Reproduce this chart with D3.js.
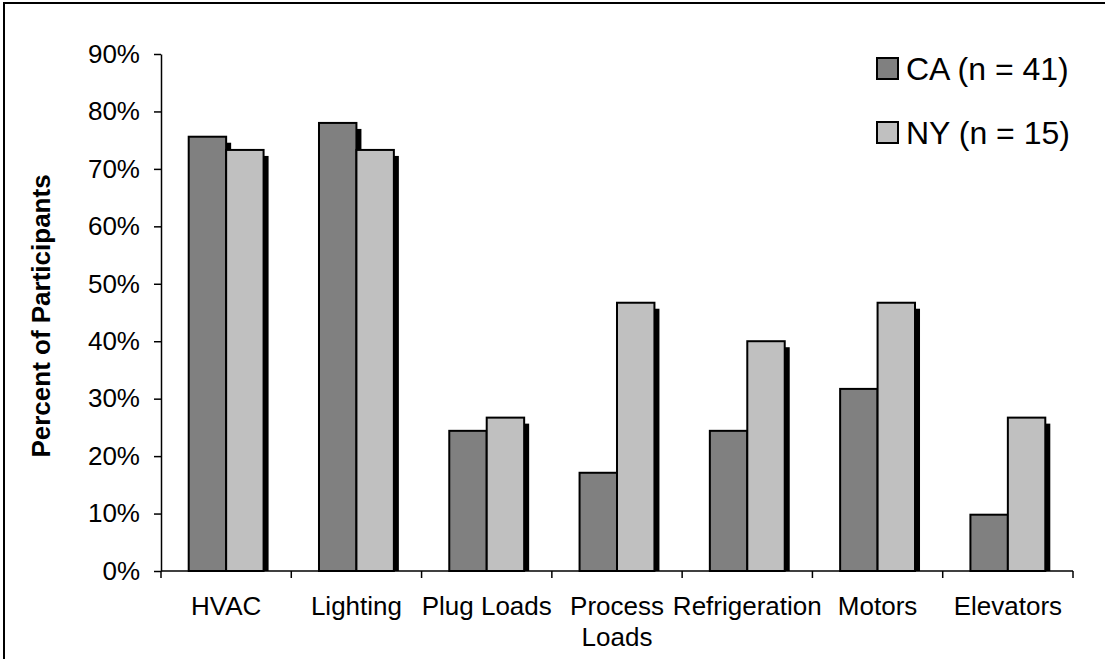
<!DOCTYPE html>
<html>
<head>
<meta charset="utf-8">
<script src="https://cdn.jsdelivr.net/npm/d3@7"></script>
<style>
  body { margin: 0; background: #fff; }
  svg { font-family: "Liberation Sans", Arial, sans-serif; }
</style>
</head>
<body>
<svg width="1105" height="659"></svg>
<script>
// chart data
const categories = ["HVAC", "Lighting", "Plug Loads", "Process Loads", "Refrigeration", "Motors", "Elevators"];
const tickLabels = [["HVAC"], ["Lighting"], ["Plug Loads"], ["Process", "Loads"], ["Refrigeration"], ["Motors"], ["Elevators"]];
const seriesNames = ["CA (n = 41)", "NY (n = 15)"];
const caValues = [0.756, 0.780, 0.244, 0.171, 0.244, 0.317, 0.098];
const nyValues = [0.733, 0.733, 0.267, 0.467, 0.400, 0.467, 0.267];
const yTicks = [0, 0.1, 0.2, 0.3, 0.4, 0.5, 0.6, 0.7, 0.8, 0.9];
const colors = ["#808080", "#c0c0c0"];

const svg = d3.select("svg");

// outer frame
svg.append("rect")
    .attr("x", 4).attr("y", 3)
    .attr("width", 1110).attr("height", 670)
    .attr("fill", "none").attr("stroke", "#000").attr("stroke-width", 2);

const x = d3.scaleBand()
    .domain(categories)
    .range([161, 1073])
    .padding(0);

const x1 = d3.scaleBand()
    .domain(["CA", "NY"])
    .range([0, x.bandwidth()])
    .paddingInner(0)
    .paddingOuter(0.74);

const y = d3.scaleLinear()
    .domain([0, 0.9])
    .range([571, 54]);

const rows = categories.map((c, i) => ({
    cat: c,
    vals: [{k: "CA", v: caValues[i], c: colors[0]}, {k: "NY", v: nyValues[i], c: colors[1]}]
}));

const groups = svg.append("g").selectAll("g")
    .data(rows)
    .enter().append("g")
    .attr("transform", d => "translate(" + x(d.cat) + ",0)");

// shadows first
groups.selectAll("rect.shadow")
    .data(d => d.vals)
    .enter().append("rect")
    .attr("class", "shadow")
    .attr("x", d => x1(d.k) + 5)
    .attr("y", d => y(d.v) + 6)
    .attr("width", x1.bandwidth())
    .attr("height", d => Math.max(0, y(0) - y(d.v) - 6))
    .attr("fill", "#000");

groups.selectAll("rect.bar")
    .data(d => d.vals)
    .enter().append("rect")
    .attr("class", "bar")
    .attr("x", d => x1(d.k))
    .attr("y", d => y(d.v))
    .attr("width", x1.bandwidth())
    .attr("height", d => y(0) - y(d.v))
    .attr("fill", d => d.c)
    .attr("stroke", "#000")
    .attr("stroke-width", 2);

// y axis
const yAxis = svg.append("g")
    .attr("transform", "translate(161,0)")
    .call(d3.axisLeft(y).tickValues(yTicks).tickFormat(d3.format(".0%")).tickSize(7).tickPadding(14).tickSizeOuter(0));
yAxis.select(".domain").attr("stroke", "#000").attr("stroke-width", 1.5);
yAxis.selectAll(".tick line").attr("stroke", "#000").attr("stroke-width", 1.5);
yAxis.selectAll("text").attr("font-size", 26).attr("fill", "#000").attr("font-family", "Liberation Sans, Arial, sans-serif");

// x axis
const xAxis = svg.append("g").attr("transform", "translate(0,571)");
xAxis.append("line")
    .attr("x1", x.range()[0]).attr("x2", x.range()[1])
    .attr("stroke", "#000").attr("stroke-width", 1.5);
xAxis.selectAll("line.tick")
    .data(categories.map(c => x(c)).concat([x.range()[1]]))
    .enter().append("line")
    .attr("class", "tick")
    .attr("x1", d => d).attr("x2", d => d)
    .attr("y1", 0).attr("y2", 7)
    .attr("stroke", "#000").attr("stroke-width", 1.5);
const xl = xAxis.selectAll("text")
    .data(categories)
    .enter().append("text")
    .attr("text-anchor", "middle")
    .attr("font-size", 26)
    .attr("transform", d => "translate(" + (x(d) + x.bandwidth() / 2) + ",44)");
xl.selectAll("tspan")
    .data((d, i) => tickLabels[i])
    .enter().append("tspan")
    .attr("x", 0)
    .attr("dy", (d, i) => i === 0 ? 0 : 31)
    .text(d => d);

// y title
svg.append("text")
    .attr("transform", "translate(50,316) rotate(-90)")
    .attr("text-anchor", "middle")
    .attr("font-size", 26)
    .attr("font-weight", "bold")
    .text("Percent of Participants");

// legend
const legend = svg.append("g").selectAll("g")
    .data(seriesNames)
    .enter().append("g")
    .attr("transform", (d, i) => "translate(877," + (58 + i * 64) + ")");
legend.append("rect")
    .attr("width", 21).attr("height", 21)
    .attr("fill", (d, i) => colors[i])
    .attr("stroke", "#000").attr("stroke-width", 2);
legend.append("text")
    .attr("x", 29).attr("y", 22)
    .attr("font-size", 32)
    .text(d => d);
</script>
</body>
</html>
